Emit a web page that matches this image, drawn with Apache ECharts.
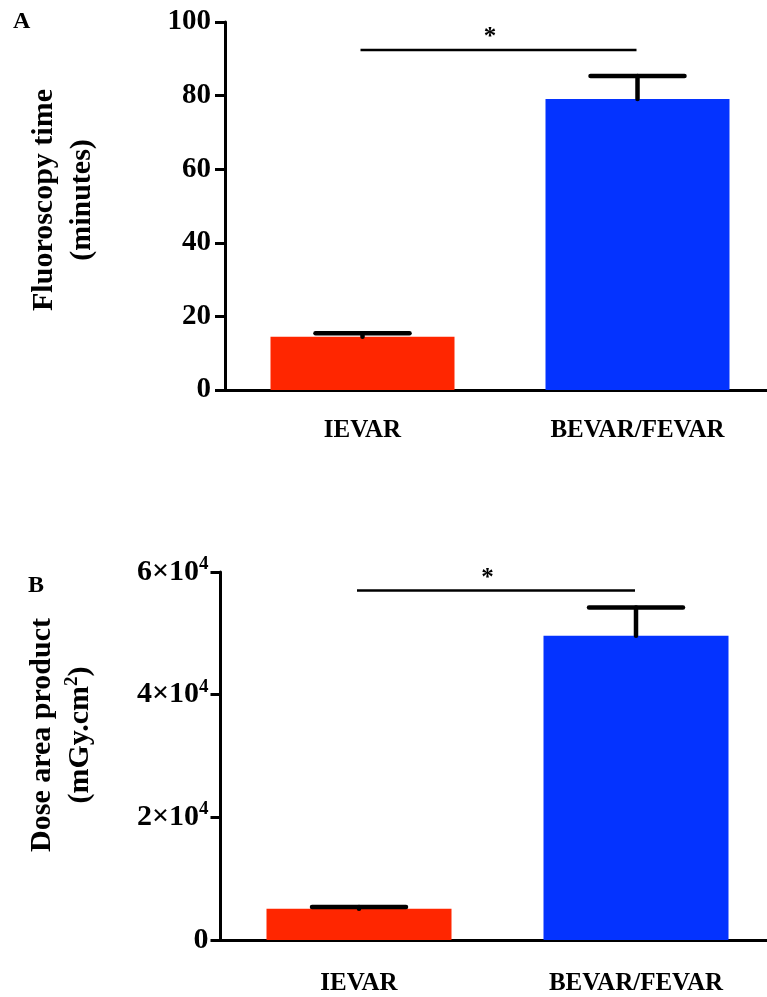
<!DOCTYPE html>
<html>
<head>
<meta charset="utf-8">
<script src="https://cdn.jsdelivr.net/npm/echarts@6.0.0/dist/echarts.min.js"></script>
<style>
  html, body { margin: 0; padding: 0; background: #fff; }
  #chart { width: 767px; height: 997px; }
</style>
</head>
<body>
<div id="chart"></div>
<script>
// datos
var groups = ['IEVAR', 'BEVAR/FEVAR'];
var barColors = ['#ff2600', '#0433ff'];

// panel A: tiempo de fluoroscopia (minutos), media y limite superior del error
var fluoroMean = [14.5, 79.1];
var fluoroUpper = [15.4, 85.3];
var fluoroSig = 92.4;

// panel B: producto dosis-area (mGy.cm2)
var doseMean = [5100, 49600];
var doseUpper = [5400, 54200];
var doseSig = 57000;

var serif = 'Liberation Serif';

var myChart = echarts.init(document.getElementById('chart'));

// barra de error: tallo desde la media hasta el limite y tapa horizontal
function errorBar(params, api) {
  var base = api.coord([api.value(0), api.value(1)]);
  var top = api.coord([api.value(0), api.value(2)]);
  var half = 47;
  var st = { stroke: '#000', lineWidth: 4.5, lineCap: 'round' };
  return {
    type: 'group',
    children: [
      { type: 'line', shape: { x1: base[0], y1: base[1], x2: top[0], y2: top[1] }, style: st },
      { type: 'line', shape: { x1: top[0] - half, y1: top[1], x2: top[0] + half, y2: top[1] }, style: st }
    ]
  };
}

// linea de significancia con asterisco
function sigLine(params, api) {
  var p0 = api.coord([api.value(0), api.value(2)]);
  var p1 = api.coord([api.value(1), api.value(2)]);
  return {
    type: 'group',
    children: [
      { type: 'line', shape: { x1: p0[0] - 2, y1: p0[1], x2: p1[0] - 1, y2: p1[1] },
        style: { stroke: '#000', lineWidth: 2.5 } },
      { type: 'text', x: (p0[0] + p1[0]) / 2 - 10, y: p0[1] - 12,
        style: { text: '*', fill: '#000', font: 'bold 25px ' + serif, align: 'center', verticalAlign: 'middle' } }
    ]
  };
}

function barData(means) {
  return means.map(function (v, i) {
    return { value: v, itemStyle: { color: barColors[i] } };
  });
}

function errData(means, upper) {
  return means.map(function (v, i) { return [i, v, upper[i]]; });
}

var axisLineStyle = { color: '#000', width: 3 };

function xAxisFor(idx, margin) {
  return {
    type: 'category',
    gridIndex: idx,
    data: groups,
    axisLine: { lineStyle: axisLineStyle },
    axisTick: { length: 10, alignWithLabel: true, lineStyle: { color: '#000', width: 3 } },
    axisLabel: { margin: margin, color: '#000', fontFamily: serif, fontWeight: 'bold', fontSize: 25 }
  };
}

var supStyle = { fontFamily: serif, fontWeight: 'bold', fontSize: 19, verticalAlign: 'middle', padding: [0, 0, 16, 0], color: '#000' };

var option = {
  animation: false,
  backgroundColor: '#fff',
  title: [
    { text: 'A', left: 8, top: 5, textStyle: { fontFamily: serif, fontWeight: 'bold', fontSize: 24, color: '#000' } },
    { text: 'B', left: 23, top: 569, textStyle: { fontFamily: serif, fontWeight: 'bold', fontSize: 24, color: '#000' } }
  ],
  grid: [
    { left: 225, width: 550, top: 22, height: 368, outerBoundsMode: 'none' },
    { left: 220.5, width: 554, top: 572, height: 368, outerBoundsMode: 'none' }
  ],
  xAxis: [xAxisFor(0, 28), xAxisFor(1, 31)],
  yAxis: [
    {
      type: 'value',
      gridIndex: 0,
      min: 0, max: 100, interval: 20,
      name: 'Fluoroscopy time\n(minutes)',
      nameLocation: 'middle',
      nameGap: 124,
      nameTextStyle: { fontFamily: serif, fontWeight: 'bold', fontSize: 30, lineHeight: 38, padding: [0, 0, 0, 12], color: '#000' },
      axisLine: { show: true, lineStyle: axisLineStyle },
      axisTick: { show: true, length: 10, lineStyle: { color: '#000', width: 3 } },
      splitLine: { show: false },
      axisLabel: { margin: 14, color: '#000', fontFamily: serif, fontWeight: 'bold', fontSize: 29 }
    },
    {
      type: 'value',
      gridIndex: 1,
      min: 0, max: 60000, interval: 20000,
      name: '{n|Dose area product}\n{n|(mGy.cm}{s|2}{n|)}',
      nameLocation: 'middle',
      nameGap: 121,
      nameTextStyle: {
        padding: [0, 0, 0, 42],
        rich: {
          n: { fontFamily: serif, fontWeight: 'bold', fontSize: 30, lineHeight: 38, color: '#000' },
          s: supStyle
        }
      },
      axisLine: { show: true, lineStyle: axisLineStyle },
      axisTick: { show: true, length: 10, lineStyle: { color: '#000', width: 3 } },
      splitLine: { show: false },
      axisLabel: {
        margin: 12,
        formatter: function (v) {
          if (v === 0) return '{b|0}';
          return '{b|' + (v / 10000) + '×10}{s|4}';
        },
        rich: {
          b: { fontFamily: serif, fontWeight: 'bold', fontSize: 30, verticalAlign: 'middle', color: '#000' },
          s: supStyle
        }
      }
    }
  ],
  series: [
    { type: 'bar', xAxisIndex: 0, yAxisIndex: 0, barWidth: 184, data: barData(fluoroMean) },
    { type: 'custom', xAxisIndex: 0, yAxisIndex: 0, renderItem: errorBar,
      encode: { x: 0, y: [1, 2] }, data: errData(fluoroMean, fluoroUpper), z: 5 },
    { type: 'custom', xAxisIndex: 0, yAxisIndex: 0, renderItem: sigLine,
      encode: { x: [0, 1], y: 2 }, data: [[0, 1, fluoroSig]], z: 5 },
    { type: 'bar', xAxisIndex: 1, yAxisIndex: 1, barWidth: 185, data: barData(doseMean) },
    { type: 'custom', xAxisIndex: 1, yAxisIndex: 1, renderItem: errorBar,
      encode: { x: 0, y: [1, 2] }, data: errData(doseMean, doseUpper), z: 5 },
    { type: 'custom', xAxisIndex: 1, yAxisIndex: 1, renderItem: sigLine,
      encode: { x: [0, 1], y: 2 }, data: [[0, 1, doseSig]], z: 5 }
  ]
};

myChart.setOption(option);
</script>
</body>
</html>
